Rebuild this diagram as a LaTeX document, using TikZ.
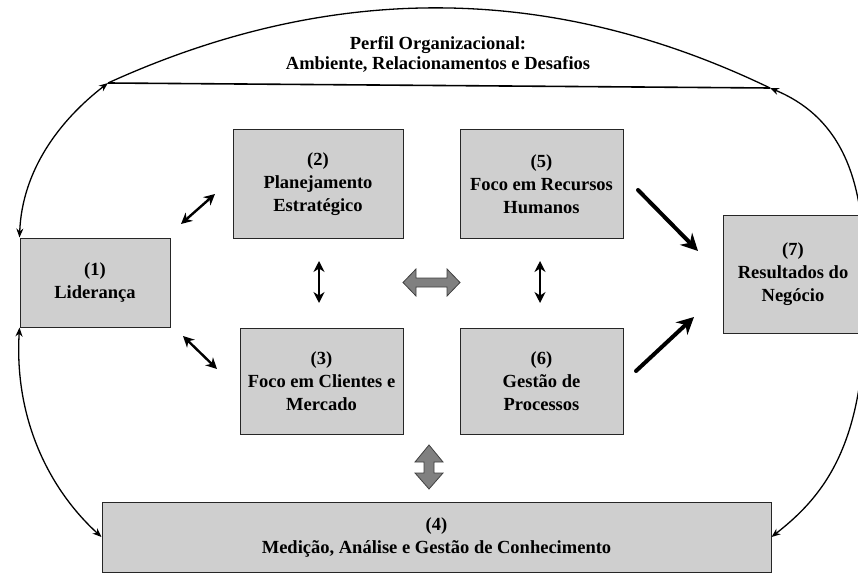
\documentclass[tikz,border=0pt]{standalone}
\usepackage{fontspec}
\setmainfont{Liberation Serif}
\usetikzlibrary{arrows.meta}

\definecolor{boxgray}{RGB}{207,207,207}
\definecolor{blockgray}{RGB}{128,128,128}
\definecolor{blockedge}{RGB}{64,64,64}

\tikzset{
  box/.style={draw=black!85, line width=1pt, fill=boxgray, inner sep=0pt,
    align=center, font=\bfseries\fontsize{18.5}{23}\selectfont},
  label/.style={align=center, font=\bfseries\fontsize{18.5}{20}\selectfont},
  link/.style={line width=2.4pt,
    {Stealth[length=11pt,width=11pt]}-{Stealth[length=11pt,width=11pt]}},
  feed/.style={line width=4pt, line cap=round, -{Stealth[length=17pt,width=17pt]}},
  loop/.style={line width=1.3pt},
  block/.style={fill=blockgray, draw=blockedge, line width=0.8pt, line join=miter}
}

\begin{document}
\begin{tikzpicture}[x=1pt, y=-1pt]
  \useasboundingbox (0,0) rectangle (858,577);

  % criteria boxes
  \node[box, minimum width=150pt, minimum height=89pt]  (b1) at (95,282.5)   {(1)\\Liderança};
  \node[box, minimum width=170pt, minimum height=108pt] (b2) at (318,184)    {(2)\\Planejamento\\Estratégico};
  \node[box, minimum width=163pt, minimum height=106pt] (b3) at (321.5,381)  {(3)\\Foco em Clientes e\\Mercado};
  \node[box, minimum width=669pt, minimum height=70pt]  (b4) at (436.5,537)  {(4)\\Medição, Análise e Gestão de Conhecimento};
  \node[box, minimum width=163pt, minimum height=108pt] (b5) at (541.5,184)  {(5)\\Foco em Recursos\\Humanos};
  \node[box, minimum width=163pt, minimum height=106pt] (b6) at (541.5,381)  {(6)\\Gestão de\\Processos};
  \node[box, minimum width=140pt, minimum height=117pt] (b7) at (793,274.5)  {(7)\\Resultados do\\Negócio};

  % organizational profile cap
  \coordinate (tl) at (108,83);
  \coordinate (tr) at (770,88);
  \draw[loop] (tl) .. controls (330,-18) and (550,-18) .. (tr);
  \draw[loop, line width=1.6pt] (tl) -- (tr);
  \node[label] (perfil) at (438,54) {Perfil Organizacional:\\Ambiente, Relacionamentos e Desafios};

  % outer feedback loops
  \draw[loop, {Stealth[length=9pt,width=7pt]}-{Stealth[length=9pt,width=7pt]}]
    (tl) .. controls (60,120) and (22,170) .. (b1.north west);
  \draw[loop, {Stealth[length=9pt,width=7pt]}-{Stealth[length=9pt,width=7pt]}]
    (b1.south west) .. controls (14,420) and (50,490) .. (b4.west);
  \draw[loop, -{Stealth[length=9pt,width=7pt]}]
    (b7.east) .. controls (866,170) and (835,115) .. (tr);
  \draw[loop, -{Stealth[length=9pt,width=7pt]}]
    (b7.east) .. controls (872,440) and (825,495) .. (b4.east);

  % links between criteria
  \coordinate (l12a) at (181,224);  \coordinate (l12b) at (215,194);
  \coordinate (l13a) at (183,336);  \coordinate (l13b) at (217,369);
  \coordinate (l23a) at (319,261);  \coordinate (l23b) at (319,303);
  \coordinate (l56a) at (540,261);  \coordinate (l56b) at (540,303);
  \draw[link] (l12a) -- (l12b);
  \draw[link] (l13a) -- (l13b);
  \draw[link] (l23a) -- (l23b);
  \draw[link] (l56a) -- (l56b);

  % results arrows
  \coordinate (f5) at (638,190);  \coordinate (t5) at (698,251);
  \coordinate (f6) at (636,371);  \coordinate (t6) at (694,317);
  \draw[feed] (f5) -- (t5);
  \draw[feed] (f6) -- (t6);

  % block arrows
  \draw[block] (403,282.5) -- (416,269) -- (416,278) -- (447,278) -- (447,269)
    -- (460,282.5) -- (447,296) -- (447,287) -- (416,287) -- (416,296) -- cycle;
  \draw[block] (429,445) -- (443,462) -- (434,462) -- (434,473) -- (443,473)
    -- (429,489) -- (415,473) -- (424,473) -- (424,462) -- (415,462) -- cycle;
\end{tikzpicture}
\end{document}
